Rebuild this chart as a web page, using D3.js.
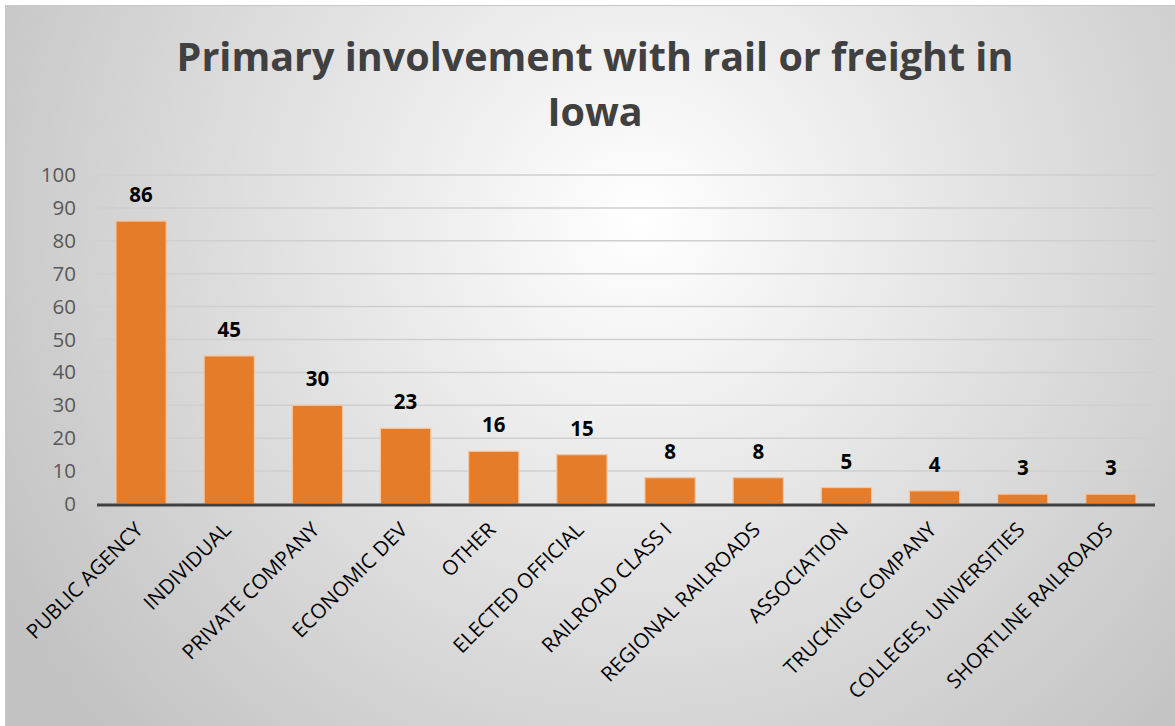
<!DOCTYPE html>
<html><head><meta charset="utf-8">
<script src="https://cdn.jsdelivr.net/npm/d3@7"></script>
<style>body{margin:0;background:#fff;}svg{display:block;}</style>
</head><body>
<script>
const categories = ["PUBLIC AGENCY","INDIVIDUAL","PRIVATE COMPANY","ECONOMIC DEV","OTHER","ELECTED OFFICIAL","RAILROAD CLASS I","REGIONAL RAILROADS","ASSOCIATION","TRUCKING COMPANY","COLLEGES, UNIVERSITIES","SHORTLINE RAILROADS"];
const values = [86,45,30,23,16,15,8,8,5,4,3,3];
const yTicks = [0,10,20,30,40,50,60,70,80,90,100];
const titleLines = ["Primary involvement with rail or freight in","Iowa"];

const W = 1175, H = 726;
const svg = d3.select("body").append("svg").attr("width", W).attr("height", H);
const defs = svg.append("defs");
const rg = defs.append("radialGradient").attr("id","bg").attr("gradientUnits","userSpaceOnUse")
  .attr("cx",640).attr("cy",220).attr("r",740);
rg.append("stop").attr("offset","0%").attr("stop-color","#ffffff");
rg.append("stop").attr("offset","100%").attr("stop-color","#c2c2c2");

svg.append("rect").attr("x",5.5).attr("y",5.5).attr("width",W-5).attr("height",H-5)
  .attr("fill","url(#bg)").attr("stroke","#c8c8c8").attr("stroke-width",1);

const m = {left:97, right:1155, top:175, bottom:504};
const x = d3.scaleBand().domain(categories).range([m.left, m.right]).paddingInner(0.43).paddingOuter(0.215);
const y = d3.scaleLinear().domain([0,100]).range([m.bottom, m.top]);

// gridlines
svg.append("g").selectAll("line").data(yTicks.filter(d=>d>0)).enter().append("line")
  .attr("x1",m.left).attr("x2",m.right).attr("y1",d=>y(d)).attr("y2",d=>y(d))
  .attr("stroke","#cfcfcf").attr("stroke-width",1.5);

// y axis labels
const yAxis = d3.axisLeft(y).tickValues(yTicks).tickSize(0).tickPadding(0);
const ya = svg.append("g").attr("transform",`translate(${76},0)`).call(yAxis);
ya.select(".domain").remove();
ya.selectAll("text").attr("font-family","'Open Sans', sans-serif").attr("font-size",20.5).attr("fill","#595959");

// bars
svg.selectAll("rect.bar").data(values).enter().append("rect")
  .attr("x",(d,i)=>x(categories[i])).attr("width",x.bandwidth())
  .attr("y",d=>y(d)).attr("height",d=>y(0)-y(d))
  .attr("fill","#E47C2A").attr("stroke","#F6C6A0").attr("stroke-width",1.2);

// baseline
svg.append("line").attr("x1",m.left).attr("x2",m.right).attr("y1",y(0)+1).attr("y2",y(0)+1)
  .attr("stroke","#404040").attr("stroke-width",3);

// data labels
svg.selectAll("text.val").data(values).enter().append("text")
  .attr("x",(d,i)=>x(categories[i])+x.bandwidth()/2).attr("y",d=>y(d)-19)
  .attr("text-anchor","middle").attr("font-family","'Open Sans', sans-serif")
  .attr("font-weight","bold").attr("font-size",20.5).attr("fill","#000").text(d=>d);

// x axis category labels
const xAxis = d3.axisBottom(x).tickSize(0).tickPadding(0);
const xa = svg.append("g").attr("transform",`translate(0,${m.bottom})`).call(xAxis);
xa.select(".domain").remove();
xa.selectAll("text")
  .attr("font-family","'Open Sans', sans-serif").attr("font-size",20.5).attr("fill","#000")
  .attr("text-anchor","end").attr("dy","0.35em")
  .attr("transform","translate(-2,22) rotate(-45)")
  .attr("y",0).attr("x",0);

// title
svg.selectAll("text.title").data(titleLines).enter().append("text")
  .attr("x",595).attr("y",(d,i)=>71+i*55).attr("text-anchor","middle")
  .attr("font-family","'Open Sans', sans-serif").attr("font-weight","bold")
  .attr("font-size",39.5).attr("fill","#404040").text(d=>d);
</script>
</body></html>
